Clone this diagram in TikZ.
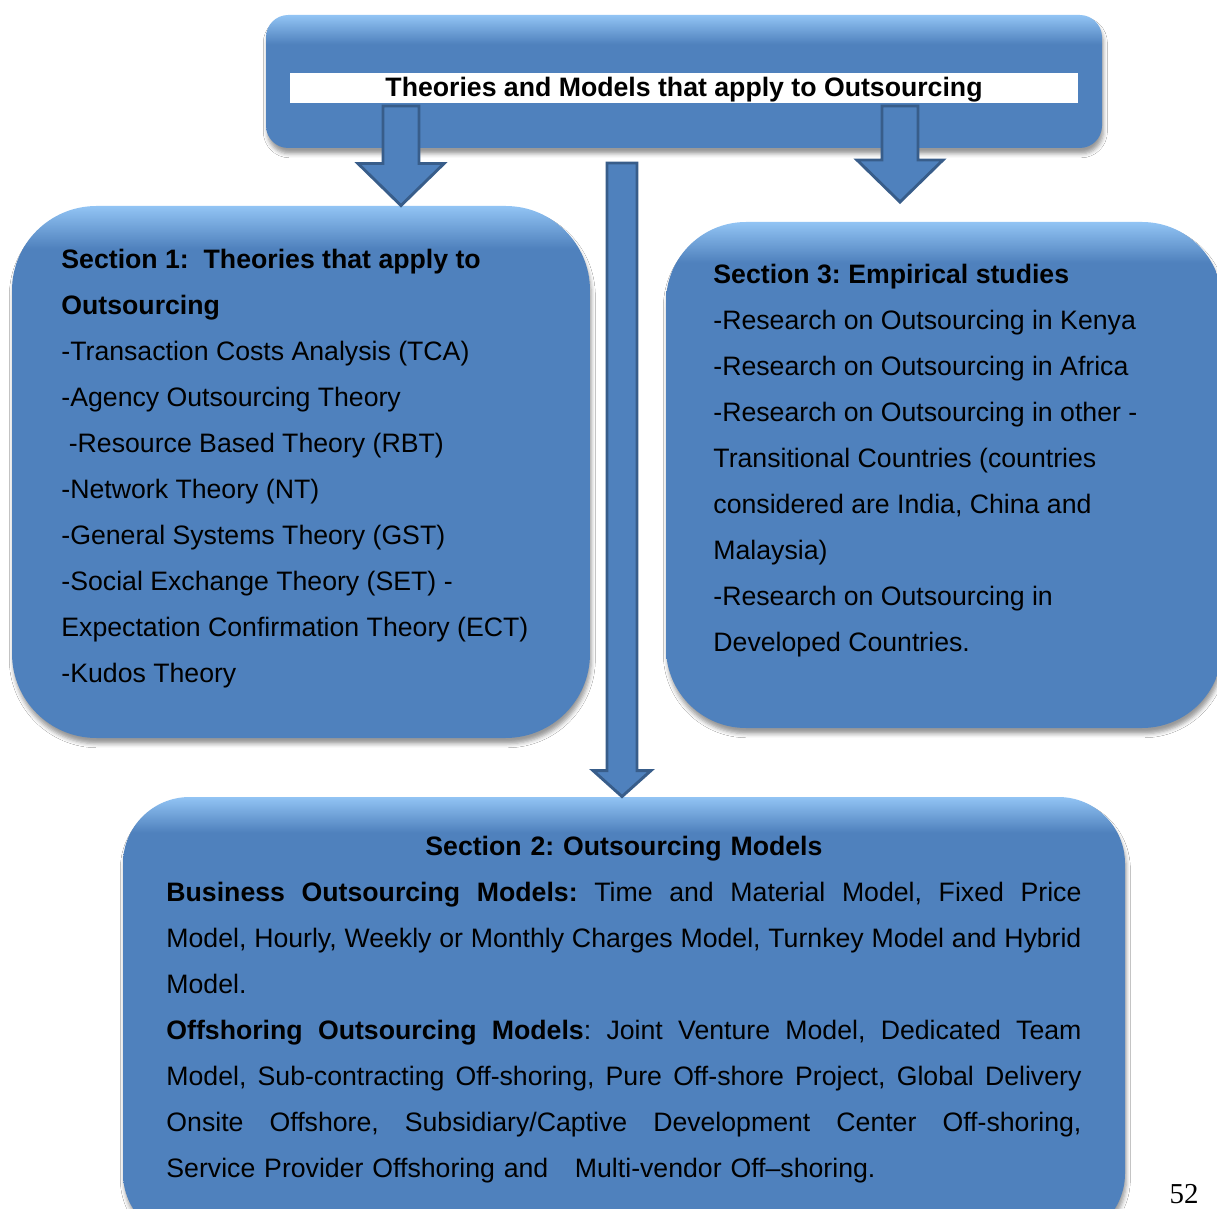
\documentclass[tikz,border=0pt]{standalone}
\usepackage{fontspec}
\setmainfont{Liberation Sans}
\newfontfamily\pagefont{Liberation Serif}
\usetikzlibrary{calc,fit,shadows.blur}

\definecolor{boxblue}{RGB}{79,129,189}
\definecolor{boxlight}{RGB}{146,196,244}
\definecolor{arrowline}{RGB}{56,93,138}

% vertical fills: plain blue with a light rim along the top edge
\pgfdeclareverticalshading{headshade}{100bp}{color(0bp)=(boxblue); color(25bp)=(boxblue); color(64bp)=(boxblue); color(75bp)=(boxlight); color(100bp)=(boxlight)}
\pgfdeclareverticalshading{panelshade}{100bp}{color(0bp)=(boxblue); color(25bp)=(boxblue); color(71bp)=(boxblue); color(75bp)=(boxlight); color(100bp)=(boxlight)}

\tikzset{
  panel/.style={inner sep=0pt, draw=none, shading=panelshade,
    blur shadow={shadow xshift=0.6pt, shadow yshift=-2.6pt, shadow blur radius=1.8pt, shadow opacity=40}},
  bodytext/.style={anchor=north west, inner sep=0pt, align=left,
    font=\fontsize{12}{20.7}\selectfont},
  blockarrow/.style={fill=boxblue, draw=arrowline, line width=1.3pt, line join=miter},
}

% downward block arrow: #1 start, #2 tip, #3 half shaft, #4 half head, #5 head length
\newcommand\downblock[5]{%
  \draw[blockarrow] ($(#1)+(-#3,0)$) -- ($(#2)+(-#3,-#5)$) -- ($(#2)+(-#4,-#5)$) -- (#2)
    -- ($(#2)+(#4,-#5)$) -- ($(#2)+(#3,-#5)$) -- ($(#1)+(#3,0)$) -- cycle;}

% a justified line: word spaces stretch to the full column width
\newcommand\fullline[1]{{\spaceskip=\fontdimen2\font plus 1fil minus 0.4\fontdimen2\font
  \makebox[\hsize][s]{#1}}}

\begin{document}
\begin{tikzpicture}[x=0.45pt,y=-0.45pt,execute at begin node=\frenchspacing]
\useasboundingbox (0,0) rectangle (1217,1209);
\fill[white] (0,0) rectangle (1217,1209);
\clip (0,0) rectangle (1217,1209);

% boxes
\node[panel, shading=headshade, rounded corners=10pt, fit={(266,15) (1102,148)}] (head) {};
\node[fill=white, inner sep=0pt, fit={(290,73) (1078,103)}] (band) {};
\node[anchor=base, inner sep=0pt, font=\bfseries\fontsize{12}{14}\selectfont] (title) at (684,97)
  {Theories and Models that apply to Outsourcing};

\node[panel, rounded corners=38pt, fit={(12,206) (590,738)}] (sec1) {};
\node[panel, rounded corners=36pt, fit={(666,222) (1222,728)}] (sec3) {};
\node[panel, rounded corners=30pt, fit={(123,797) (1125,1240)}] (sec2) {};

% box texts
\node[bodytext] (sec1text) at (61,249) {%
\textbf{Section 1:\ \ Theories that apply to}\\
\textbf{Outsourcing}\\
-Transaction Costs Analysis (TCA)\\
-Agency Outsourcing Theory\\
\ -Resource Based Theory (RBT)\\
-Network Theory (NT)\\
-General Systems Theory (GST)\\
-Social Exchange Theory (SET) -\\
Expectation Confirmation Theory (ECT)\\
-Kudos Theory};

\node[bodytext] (sec3text) at (713,264) {%
\textbf{Section 3: Empirical studies}\\
-Research on Outsourcing in Kenya\\
-Research on Outsourcing in Africa\\
-Research on Outsourcing in other -\\
Transitional Countries (countries\\
considered are India, China and\\
Malaysia)\\
-Research on Outsourcing in\\
Developed Countries.};

\node[bodytext, text width=411.75pt] (sec2text) at (166,836) {%
\makebox[\hsize][c]{\textbf{Section 2: Outsourcing Models}}\\
\fullline{\textbf{Business Outsourcing Models:} Time and Material Model, Fixed Price}\\
\fullline{Model, Hourly, Weekly or Monthly Charges Model, Turnkey Model and Hybrid}\\
Model.\\
\fullline{\textbf{Offshoring Outsourcing Models}: Joint Venture Model, Dedicated Team}\\
\fullline{Model, Sub-contracting Off-shoring, Pure Off-shore Project, Global Delivery}\\
\fullline{Onsite Offshore, Subsidiary/Captive Development Center Off-shoring,}\\
Service Provider Offshoring and \ \ Multi-vendor Off–shoring.};

% arrows
\coordinate (l-start) at (401,106);
\coordinate (l-tip) at (l-start |- sec1.north);
\coordinate (m-start) at (622,163);
\coordinate (m-tip) at (m-start |- sec2.north);
\coordinate (r-start) at (900,106);
\coordinate (r-tip) at (900,202);
\downblock{l-start}{l-tip}{18}{43}{42}
\downblock{r-start}{r-tip}{18}{43}{42}
\downblock{m-start}{m-tip}{15}{29}{26}

\node[anchor=base, inner sep=0pt, font=\pagefont\fontsize{13}{13}\selectfont] (pagenum) at (1184,1203) {52};
\end{tikzpicture}
\end{document}
